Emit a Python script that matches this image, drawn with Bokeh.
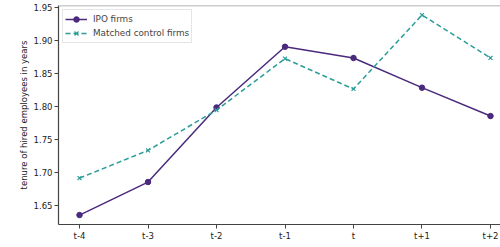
from bokeh.plotting import figure
from bokeh.models import FixedTicker, Range1d, Span, Legend, LegendItem, NumeralTickFormatter
from bokeh.embed import file_html
from bokeh.resources import INLINE

periods = ["t-4", "t-3", "t-2", "t-1", "t", "t+1", "t+2"]
ipo_firms = [1.636, 1.686, 1.799, 1.891, 1.874, 1.829, 1.786]
control_firms = [1.692, 1.734, 1.795, 1.873, 1.827, 1.939, 1.874]
y_ticks = [1.65, 1.70, 1.75, 1.80, 1.85, 1.90, 1.95]

xs = list(range(len(periods)))
PURPLE = "#4a2a7c"
TEAL = "#2a9d98"
FONT = "DejaVu Sans"
Y_TOP = 1.9535

p = figure(width=500, height=247, output_backend="svg", toolbar_location=None,
           x_range=Range1d(-0.3066, 6.146), y_range=Range1d(1.6217, Y_TOP),
           min_border_left=58, min_border_right=0, min_border_top=5, min_border_bottom=23)
p.outline_line_color = None
p.grid.visible = False
p.background_fill_color = "white"
p.border_fill_color = "white"

l1 = p.line(xs, ipo_firms, line_color=PURPLE, line_width=1.5)
s1 = p.scatter(xs, ipo_firms, marker="circle", size=5.5, fill_color=PURPLE, line_color=PURPLE)
l2 = p.line(xs, control_firms, line_color=TEAL, line_width=1.5, line_dash="5 3")
s2 = p.scatter(xs, control_firms, marker="x", size=5.5, line_color=TEAL, line_width=1.2)

p.add_layout(Span(location=Y_TOP, dimension="width", line_color="#999999", line_width=1.5))

legend = Legend(items=[LegendItem(label="IPO firms", renderers=[l1, s1]),
                       LegendItem(label="Matched control firms", renderers=[l2, s2])],
                location="top_left")
legend.label_text_font = FONT
legend.label_text_font_size = "8.8px"
legend.label_standoff = 6
legend.glyph_width = 22
legend.glyph_height = 14
legend.label_height = 14
legend.spacing = 0
legend.padding = 2
legend.margin = 4
legend.border_line_color = "#cccccc"
legend.border_line_width = 1
legend.background_fill_alpha = 0.85
p.add_layout(legend)

p.xaxis.ticker = FixedTicker(ticks=xs)
p.xaxis.major_label_overrides = {i: s for i, s in enumerate(periods)}
p.yaxis.ticker = FixedTicker(ticks=y_ticks)
p.yaxis.formatter = NumeralTickFormatter(format="0.00")
p.yaxis.axis_label = "tenure of hired employees in years"

for ax in (p.xaxis[0], p.yaxis[0]):
    ax.axis_line_color = "#444444"
    ax.axis_line_width = 1.2
    ax.major_tick_line_color = "#444444"
    ax.major_tick_out = 4
    ax.major_tick_in = 0
    ax.minor_tick_line_color = None
    ax.major_label_text_font = FONT
    ax.major_label_text_font_size = "8.5px"
    ax.major_label_text_color = "#222222"
    ax.major_label_standoff = 2
    ax.axis_label_text_font = FONT
    ax.axis_label_text_font_size = "8.5px"
    ax.axis_label_text_font_style = "normal"
    ax.axis_label_text_color = "#222222"
    ax.axis_label_standoff = 2

open("out.html", "w").write(file_html(p, INLINE))
